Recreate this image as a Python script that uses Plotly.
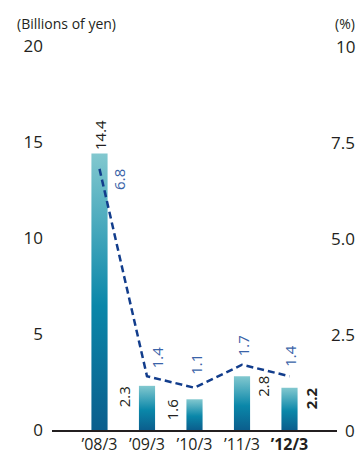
import plotly.graph_objects as go

# Fiscal years, net income (billions of yen) and ROE (%)
years = ["’08/3", "’09/3", "’10/3", "’11/3", "’12/3"]
net_income = [14.4, 2.3, 1.6, 2.8, 2.2]
roe = [6.8, 1.4, 1.1, 1.7, 1.4]
left_ticks = [0, 5, 10, 15, 20]
right_ticks = [0, 2.5, 5.0, 7.5, 10]
right_tick_text = ["0", "2.5", "5.0", "7.5", "10"]

FONT = "Open Sans, Noto Sans, sans-serif"
TXT = "#231f20"
BLUE_TXT = "#3a63a8"
LINE = "#123d8c"
BAR_W = 0.34

# bar label placement: side of bar ('top', 'left', 'right')
bar_label_side = ["top", "left", "left", "right", "right"]
# ROE label offsets in px (dx, dy) and anchor
roe_label_pos = [("left", 8, 2, "top"), ("center", 10, 6, "bottom"),
                 ("center", 2, 11, "bottom"), ("center", 1, 6, "bottom"),
                 ("center", 1, 7, "bottom")]

grad = [[0.0, "#0b5e8d"], [0.45, "#0a87a9"], [1.0, "#82c8cf"]]

fig = go.Figure()
xs = list(range(len(years)))

for i, v in enumerate(net_income):
    x0, x1 = i - BAR_W / 2, i + BAR_W / 2
    fig.add_trace(go.Scatter(
        x=[x0, x1, x1, x0, x0], y=[0, 0, v, v, 0],
        mode="lines", line=dict(width=0), fill="toself",
        fillgradient=dict(type="vertical", colorscale=grad, start=0, stop=v),
        hoverinfo="skip", showlegend=False,
    ))

fig.add_trace(go.Scatter(
    x=xs, y=roe, yaxis="y2", mode="lines",
    line=dict(color=LINE, width=2.5, dash="7px,4px"),
    showlegend=False, hoverinfo="skip",
))

ann = []
for i, (v, side) in enumerate(zip(net_income, bar_label_side)):
    bold = i == len(years) - 1
    txt = f"<b>{v}</b>" if bold else f"{v}"
    a = dict(text=txt, textangle=-90, showarrow=False, xref="x", yref="y",
             font=dict(family=FONT, size=15, color=TXT))
    if side == "top":
        a.update(x=i, y=v, xanchor="center", yanchor="bottom", yshift=1)
    elif side == "left":
        a.update(x=i - BAR_W / 2, y=v, xanchor="right", yanchor="top", xshift=-3, yshift=2)
    else:
        a.update(x=i + BAR_W / 2, y=v, xanchor="left", yanchor="top", xshift=1, yshift=2)
    ann.append(a)

for i, (v, (xa, dx, dy, ya)) in enumerate(zip(roe, roe_label_pos)):
    ann.append(dict(text=f"{v}", textangle=-90, showarrow=False, xref="x", yref="y2",
                    x=i, y=v, xanchor=xa, yanchor=ya, xshift=dx, yshift=dy,
                    font=dict(family=FONT, size=15, color=BLUE_TXT)))

# right-aligned right axis labels
for t, s in zip(right_ticks, right_tick_text):
    ann.append(dict(text=s, showarrow=False, xref="paper", yref="y2", x=1, y=t,
                    xanchor="right", yanchor="middle", xshift=20,
                    font=dict(family=FONT, size=17, color=TXT)))

ann.append(dict(text="(Billions of yen)", showarrow=False, xref="paper", yref="paper",
                x=0, y=1, xanchor="left", yanchor="middle", xshift=-37, yshift=23,
                font=dict(family=FONT, size=14, color=TXT)))
ann.append(dict(text="(%)", showarrow=False, xref="paper", yref="paper",
                x=1, y=1, xanchor="right", yanchor="middle", xshift=20, yshift=23,
                font=dict(family=FONT, size=14, color=TXT)))

ticktext = [f"<b>{y}</b>" if i == len(years) - 1 else y for i, y in enumerate(years)]

fig.update_layout(
    width=360, height=454,
    margin=dict(l=52, r=23, t=46, b=24),
    paper_bgcolor="white", plot_bgcolor="white",
    font=dict(family=FONT, color=TXT),
    xaxis=dict(range=[-1, 5], tickvals=xs, ticktext=ticktext, showgrid=False,
               zeroline=False, showline=True, linecolor="#231f20", linewidth=1.5,
               ticks="", tickfont=dict(size=16, color=TXT), fixedrange=True,
               automargin=False, ticklabelstandoff=-1),
    yaxis=dict(range=[0, 20], tickvals=left_ticks, showgrid=False, zeroline=False,
               showline=False, ticks="", tickfont=dict(size=17, color=TXT),
               ticklabelstandoff=8, automargin=False),
    yaxis2=dict(range=[0, 10], overlaying="y", side="right", showgrid=False,
                zeroline=False, showticklabels=False, showline=False,
                automargin=False),
    annotations=ann,
)

fig.write_html("out.html")
